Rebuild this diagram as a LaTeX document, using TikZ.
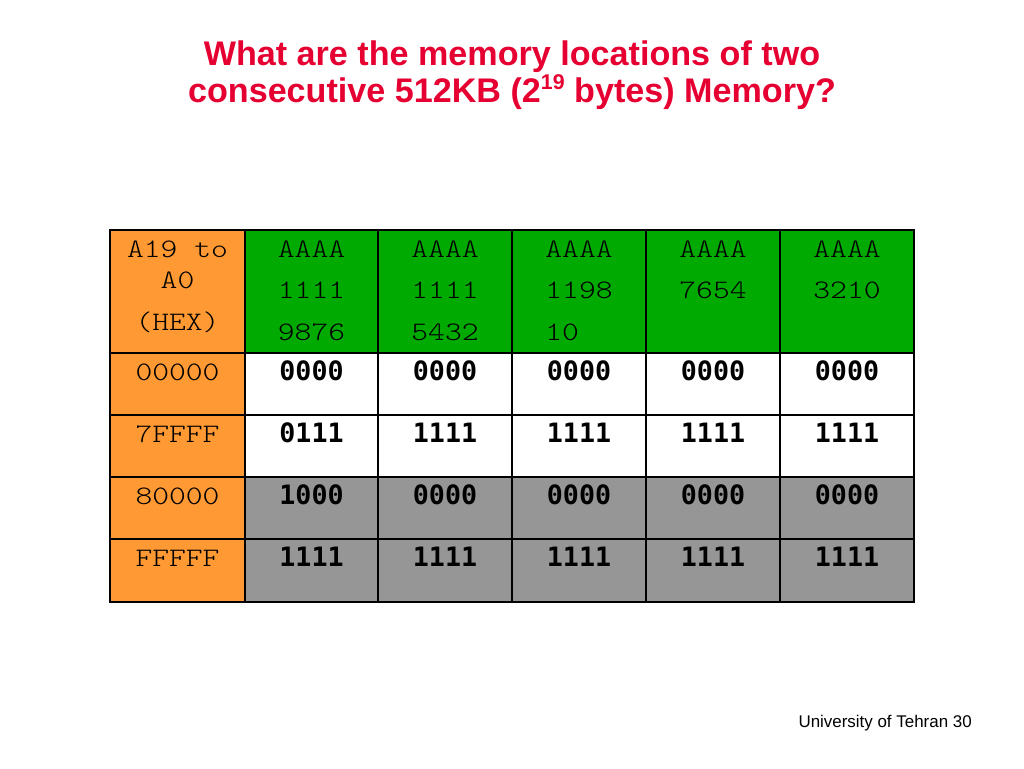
\documentclass[tikz,border=0pt]{standalone}
\usepackage{fontspec}
\setmainfont{Liberation Sans}
\newfontfamily\courierfont[FakeStretch=1.2]{lmmonolt10-regular.otf}
\newfontfamily\dejamono{DejaVu Sans Mono}
\definecolor{titlered}{RGB}{230,0,50}
\definecolor{addrorange}{RGB}{255,153,51}
\definecolor{headgreen}{RGB}{0,170,0}
\definecolor{higgray}{RGB}{150,150,150}
\newcommand{\powsup}[1]{\raisebox{0.36em}{\fontsize{16}{16}\selectfont #1}}

\begin{document}
\begin{tikzpicture}[x=0.75pt,y=-0.75pt]

%
% Styles
%
\tikzstyle{title}   = [color=titlered,font=\fontsize{25.6}{29}\selectfont\bfseries,align=center]
\tikzstyle{hexcell} = [font=\courierfont\fontsize{20}{24}\selectfont,anchor=base,inner sep=0pt]
\tikzstyle{bitcell} = [font=\dejamono\bfseries\fontsize{20}{24}\selectfont,anchor=base,inner sep=0pt]
\tikzstyle{grid}    = [draw=black,line width=1.1pt]
\tikzstyle{frame}   = [draw=black,line width=2.2pt]

\useasboundingbox (0,0) rectangle (1024,768);

% title
\node[title,anchor=base] (line1) at (512,65)  {What are the memory locations of two};
\node[title,anchor=base] (line2) at (512,102) {consecutive 512KB (2\powsup{19} bytes) Memory?};

% cell fills
\fill[addrorange] (110,230) rectangle (245,602);
\fill[headgreen]  (245,230) rectangle (914,353);
\fill[white]      (245,353) rectangle (914,477);
\fill[higgray]    (245,477) rectangle (914,602);

% grid lines
\foreach \x in {245,378,512,646,780}
  \draw[grid] (\x,230) -- (\x,602);
\foreach \y in {353,415,477,539}
  \draw[grid] (110,\y) -- (914,\y);
\draw[frame] (110,230) rectangle (914,602);

% address column
\node[hexcell] (addrA) at (177.5,257) {A19 to};
\node[hexcell] (addrB) at (177.5,288) {A0};
\node[hexcell] (addrC) at (177.5,330) {(HEX)};
\node[hexcell] (adr1) at (177.5,380) {00000};
\node[hexcell] (adr2) at (177.5,442) {7FFFF};
\node[hexcell] (adr3) at (177.5,504) {80000};
\node[hexcell] (adr4) at (177.5,566) {FFFFF};

% header row
\foreach \x/\top/\mid/\low [count=\c] in
  {311.5/AAAA/1111/9876, 445/AAAA/1111/5432, 579/AAAA/1198/10\phantom{00},
   713/AAAA/7654/{}, 847/AAAA/3210/{}}
{
  \node[hexcell] (hd\c a) at (\x,257) {\top};
  \node[hexcell] (hd\c b) at (\x,298) {\mid};
  \node[hexcell] (hd\c c) at (\x,340) {\low};
}

% bit rows
\foreach \y/\first/\rest [count=\r] in
  {380/0000/0000, 442/0111/1111, 504/1000/0000, 566/1111/1111}
{
  \node[bitcell] (bit\r-1) at (311.5,\y) {\first};
  \foreach \x [count=\c from 2] in {445,579,713,847}
    \node[bitcell] (bit\r-\c) at (\x,\y) {\rest};
}

% footer
\node[anchor=base east,font=\fontsize{12.7}{15}\selectfont,inner sep=0pt] (foot) at (972,727) {University of Tehran 30};

\end{tikzpicture}
\end{document}
